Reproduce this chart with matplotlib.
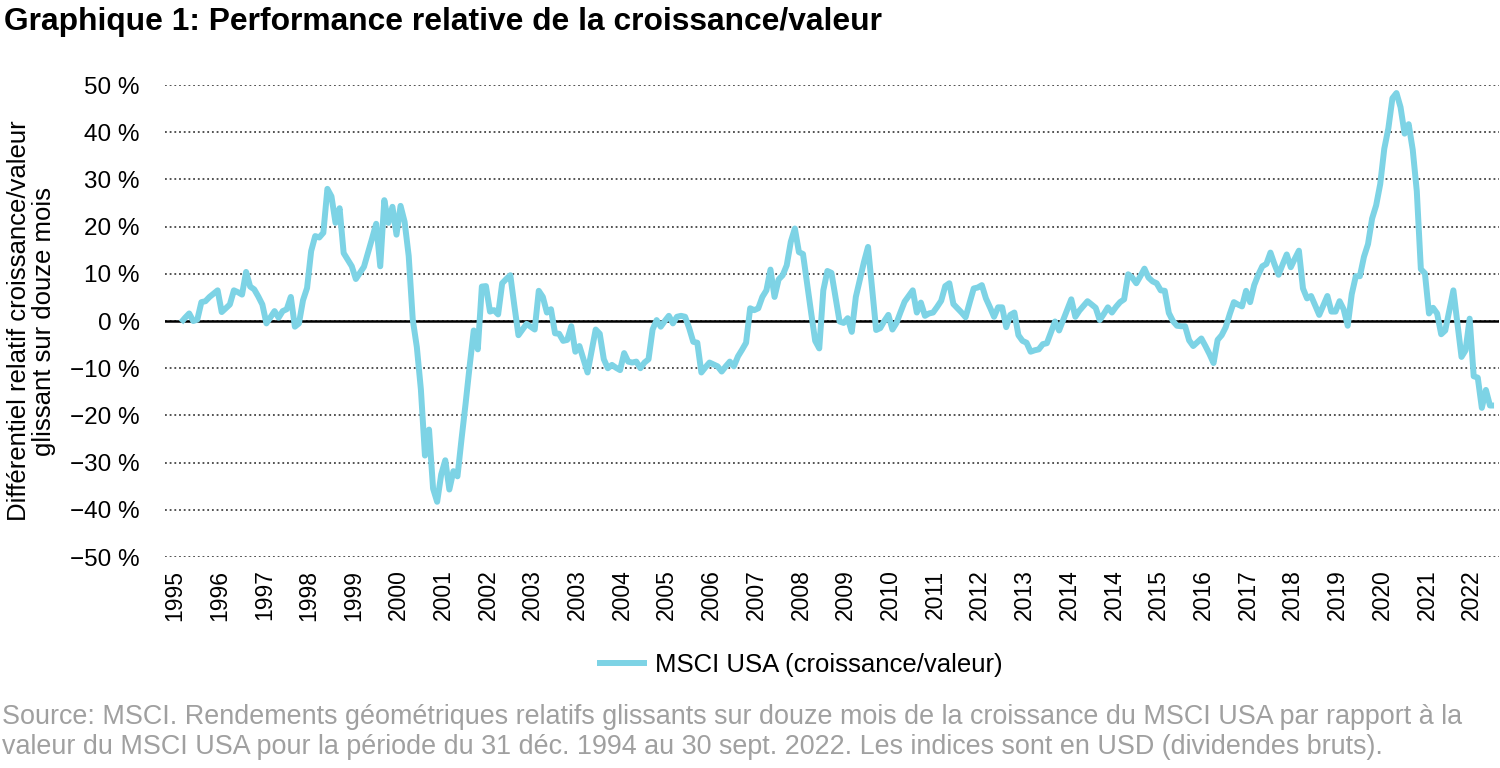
import numpy as np
import matplotlib.pyplot as plt

# MSCI USA growth minus value, rolling 12-month relative return (%), monthly Oct 1995 - Sep 2022
growth_vs_value = [
    -0.3, 0.7, 1.6, 0.0, 0.3, 4.0, 4.2, 5.1, 5.8, 6.5, 1.9, 2.7,
    3.5, 6.5, 6.1, 5.6, 10.4, 7.3, 6.7, 5.2, 3.5, -0.5, 0.8, 2.1,
    0.7, 2.1, 2.5, 5.1, -1.2, -0.5, 4.4, 7.0, 14.8, 18.0, 17.7, 18.7,
    28.0, 26.4, 20.8, 23.9, 14.4, 13.0, 11.6, 8.9, 10.2, 11.5, 14.5, 17.5,
    20.6, 11.6, 25.6, 20.8, 24.2, 18.3, 24.4, 21.0, 13.8, 0.3, -5.5, -14.5,
    -28.5, -23.0, -35.5, -38.3, -32.5, -29.5, -35.7, -31.8, -32.9, -25.0, -17.5, -9.5,
    -2.0, -6.0, 7.3, 7.4, 2.0, 2.3, 1.4, 8.0, 8.9, 9.7, 3.2, -3.0,
    -1.8, -0.6, -1.2, -1.8, 6.4, 5.1, 1.8, 2.5, -2.6, -2.7, -4.2, -4.0,
    -1.1, -6.5, -5.3, -8.1, -10.9, -6.3, -1.8, -2.7, -8.1, -10.0, -9.3, -9.9,
    -10.4, -6.8, -8.6, -8.8, -8.6, -10.0, -8.8, -8.1, -1.8, 0.2, -1.2, 0.0,
    1.1, -0.5, 0.9, 1.1, 0.9, -1.5, -4.4, -4.6, -10.9, -9.8, -8.8, -9.2,
    -9.6, -10.7, -9.6, -8.6, -9.6, -7.5, -6.1, -4.6, 2.7, 2.3, 2.7, 5.1,
    6.5, 10.9, 5.1, 8.8, 9.7, 11.8, 16.8, 19.6, 14.6, 14.2, 8.0, 1.8,
    -4.2, -5.8, 6.5, 10.6, 10.2, 5.1, -0.1, -0.4, 0.6, -2.3, 5.1, 8.8,
    12.5, 15.7, 7.0, -1.9, -1.5, 0.0, 1.3, -1.8, -0.4, 1.9, 4.1, 5.3,
    6.5, 1.8, 3.9, 1.1, 1.6, 1.8, 3.0, 4.3, 7.4, 8.0, 3.6, 2.7,
    1.8, 0.8, 3.9, 6.9, 7.1, 7.6, 4.8, 2.9, 0.9, 2.9, 2.9, -1.3,
    1.3, 1.8, -3.0, -4.2, -4.6, -6.5, -6.2, -6.0, -4.9, -4.7, -2.4, -0.1,
    -2.0, 0.2, 2.4, 4.6, 0.9, 2.2, 3.2, 4.2, 3.5, 2.8, 0.2, 1.5,
    2.9, 1.8, 3.0, 4.0, 4.6, 9.9, 9.2, 8.0, 9.5, 11.1, 9.2, 8.4,
    8.0, 6.5, 6.4, 1.7, 0.0, -1.0, -1.1, -1.1, -4.1, -5.3, -4.5, -3.7,
    -5.3, -7.0, -8.9, -4.0, -3.0, -1.3, 1.5, 4.0, 3.5, 3.1, 6.4, 4.0,
    7.6, 9.8, 11.6, 12.1, 14.5, 12.0, 9.8, 12.0, 14.1, 11.4, 13.2, 14.9,
    6.9, 4.8, 5.3, 3.3, 1.3, 3.3, 5.3, 2.0, 2.0, 4.2, 2.5, -1.0,
    5.7, 9.5, 9.5, 13.6, 16.3, 21.7, 24.5, 29.0, 36.5, 40.8, 47.2, 48.3,
    45.3, 39.7, 41.7, 36.3, 27.5, 11.0, 10.1, 1.6, 2.8, 1.6, -2.8, -2.0,
    2.2, 6.5, -0.5, -7.6, -6.2, 0.5, -11.7, -12.0, -18.4, -14.6, -17.9, -17.9,
]

# one label every 11 months, as on the original axis
x_tick_labels = ["1995", "1996", "1997", "1998", "1999", "2000", "2001", "2002",
                 "2003", "2003", "2004", "2005", "2006", "2007", "2008", "2009",
                 "2010", "2011", "2012", "2013", "2014", "2014", "2015", "2016",
                 "2017", "2018", "2019", "2020", "2021", "2022"]
y_ticks = [-50, -40, -30, -20, -10, 0, 10, 20, 30, 40, 50]

series_label = "MSCI USA (croissance/valeur)"
title = "Graphique 1: Performance relative de la croissance/valeur"
y_label = "Différentiel relatif croissance/valeur\nglissant sur douze mois"
source_note = ("Source: MSCI. Rendements géométriques relatifs glissants sur douze mois "
               "de la croissance du MSCI USA par rapport à la\n"
               "valeur du MSCI USA pour la période du 31 déc. 1994 au 30 sept. 2022. "
               "Les indices sont en USD (dividendes bruts).")

line_color = "#7dd3e5"

plt.rcParams["font.family"] = ["Liberation Sans", "DejaVu Sans"]

fig = plt.figure(figsize=(15, 7.68), dpi=100)
ax = fig.add_axes([0.11, 0.2747, 0.889, 0.6146])

months = np.arange(1, len(growth_vs_value) + 1)
line, = ax.plot(months, growth_vs_value, color=line_color, lw=4.3,
                solid_joinstyle="round", solid_capstyle="butt", zorder=3,
                label=series_label)
ax.axhline(0, color="black", lw=1.8, zorder=2)

ax.set_ylim(-50, 50)
ax.set_xlim(-2.95, 325.1)
ax.set_yticks(y_ticks)
ax.set_yticklabels([f"{v} %".replace("-", "\u2212") for v in y_ticks])
tick_pos = [-0.5 + 11 * i for i in range(len(x_tick_labels))]
ax.set_xticks(tick_pos)
ax.set_xticklabels(x_tick_labels, rotation=90)

for s in ax.spines.values():
    s.set_visible(False)
ax.yaxis.grid(True, linestyle=(0, (1, 1.6)), color="#444444", lw=1.3)
ax.tick_params(axis="y", length=0, pad=18, labelsize=17.5)
ax.tick_params(axis="x", length=0, pad=9, labelsize=16.5)

ax.set_ylabel(y_label, fontsize=18.5, linespacing=1.05)
ax.yaxis.set_label_coords(-0.082, 0.5)

fig.legend(handles=[line], loc="center", bbox_to_anchor=(0.533, 0.134),
           frameon=False, fontsize=18.5, handlelength=1.95, handletextpad=0.3)

fig.text(0.003, 0.972, title, fontsize=22.9, fontweight="bold", va="center", ha="left")
fig.text(0.001, 0.010, source_note, fontsize=19.4, color="#a0a0a0",
         va="bottom", ha="left", linespacing=1.2)

fig.savefig("out.png", dpi=100)
